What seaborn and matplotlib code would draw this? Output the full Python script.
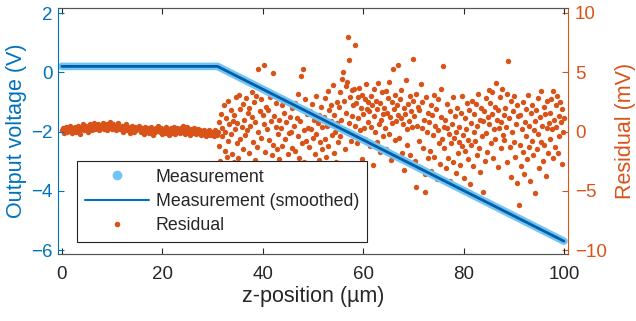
import numpy as np
import pandas as pd
import seaborn as sns
import matplotlib.pyplot as plt
from matplotlib.lines import Line2D

meas_z = [0, 31, 100]
meas_v = [0.2, 0.2, -5.7]

# residual before the ramp (mV), z = 0 .. 31
res_flat = [
    0.1, 0.3, -0.1, 0.2, 0.4, 0.0, 0.3, 0.1, 0.5, 0.2, -0.1, 0.3, 0.2, 0.4, 0.0, 0.2, 0.5, 0.1, 0.3, -0.2,
    0.4, 0.2, 0.6, 0.1, 0.3, 0.5, 0.2, 0.0, 0.4, 0.6, 0.3, 0.1, 0.5, 0.7, 0.2, 0.4, 0.3, 0.6, 0.1, 0.4,
    0.5, 0.3, 0.7, 0.2, 0.4, 0.6, 0.1, 0.5, 0.3, 0.8, 0.4, 0.2, 0.6, 0.3, 0.5, 0.1, 0.4, 0.7, 0.3, 0.2,
    0.3, 0.5, 0.0, 0.4, 0.2, 0.6, 0.3, 0.1, 0.4, 0.2, -0.1, 0.3, 0.5, 0.2, 0.0, 0.4, 0.1, 0.3, 0.2, 0.5,
    0.2, 0.0, 0.3, 0.1, -0.2, 0.4, 0.2, 0.0, 0.3, -0.1, 0.2, 0.4, 0.1, -0.3, 0.2, 0.0, 0.3, 0.1, 0.5, 0.2,
    0.0, 0.3, -0.2, 0.1, 0.2, -0.1, 0.4, 0.0, 0.2, -0.3, 0.1, 0.3, -0.1, 0.2, 0.0, 0.4, -0.2, 0.1, 0.3, 0.0,
    0.2, -0.1, 0.3, 0.0, 0.5, 0.1, -0.2, 0.2, 0.4, 0.0, 0.1, -0.3, 0.2, 0.0, -0.1, 0.3, 0.1, -0.2, 0.0, 0.2,
    -0.1, 0.1, -0.3, 0.0, -0.2, 0.1, -0.1, -0.4, 0.0, -0.2, 0.1, -0.3, -0.1, 0.0, -0.2, -0.4, 0.1, -0.1, -0.3, 0.0,
]

# residual on the ramp (mV), z = 31.2 .. 100
res_ramp = [
    -1.2, 0.8, -2.5, 1.5, -0.4, 0.3, -3.0, 2.2, -1.6, 0.0, 1.1, -2.1, 2.6, -0.8, 0.6, -3.3, 1.8, -0.2, -1.9, 0.9,
    1.4, -2.6, 0.2, 2.9, -1.0, 0.7, -2.2, 3.1, 1.9, -0.6, -3.4, 0.4, 2.3, -1.5, 1.0, -0.3, 2.8, -2.9, 0.1, 1.6,
    -1.8, 2.0, 0.5, -3.6, 3.3, 1.2, -0.9, 2.5, -2.4, 0.8, 3.0, -1.3, 5.3, 0.0, -4.1, 1.7, 2.7, -0.5, -2.8, 1.4,
    0.6, 5.6, -1.7, 2.1, -3.2, 0.2, 1.8, -0.7, -4.3, 2.9, 0.9, -2.0, 4.9, -1.1, 1.3, -3.0, 0.4, 2.4, -1.5, -0.2,
    -2.3, 1.0, -4.5, 0.3, 2.2, -1.2, -3.4, 1.6, -0.6, 0.8, -2.7, 2.6, -1.9, -0.1, -3.9, 1.2, 0.0, -1.4, 2.0, -2.9,
    0.5, -1.6, 2.4, -3.1, 1.1, -0.4, 3.2, -2.2, 0.9, 1.9, 4.7, -1.0, 5.3, -2.6, 0.1, 2.7, -0.8, -3.5, 1.5, 0.3,
    -1.3, 1.7, -2.8, 0.2, 2.3, -4.0, -0.5, 1.0, -1.9, 3.0, -0.2, -3.3, 0.7, 1.4, -2.4, -0.9, 2.1, -1.5, 0.4, -3.7,
    1.2, -0.6, 2.8, -2.1, 0.5, 3.4, -1.2, 1.8, -3.0, 0.9, 2.2, -0.3, 3.9, -1.8, 1.4, 0.0, -2.6, 2.5, 0.7, -0.9,
    2.1, -0.4, 3.3, 1.0, 4.4, 5.0, 0.2, 2.6, -1.5, 3.8, 1.6, 4.2, 8.0, 0.7, 6.0, 2.9, -0.8, 3.5, 1.3, 2.2,
    3.6, 0.5, 7.3, 2.4, -1.0, 2.9, 1.1, 3.7, 0.1, 2.0, -2.3, 3.1, 1.5, 0.3, 2.7, -0.6, 4.0, 1.9, 0.8, 2.5,
    1.7, -1.2, 3.0, 0.4, 2.2, -2.8, 1.3, 3.6, 0.0, 2.6, -0.9, 1.9, 4.1, 0.6, -1.7, 2.4, 1.0, 3.3, -0.4, 1.5,
    2.0, 0.3, 3.4, -1.5, 1.6, 2.8, -0.2, 4.2, 1.2, -2.4, 2.5, 0.7, 5.3, 1.9, -0.7, 3.1, 0.9, 2.2, 5.6, 1.4,
    -0.5, 2.7, 1.1, 3.5, -1.8, 0.6, 2.0, -3.2, 1.5, 4.3, 0.2, -1.1, 2.3, 0.9, 3.0, -2.0, 1.7, 0.4, 2.6, 6.1,
    1.3, -2.5, 3.2, -4.7, 0.5, 2.1, -0.8, 1.8, -3.0, 4.0, 0.3, 2.5, -1.4, 1.0, -3.6, -5.1, 2.9, 0.0, 1.6, -2.2,
    0.8, -1.6, 2.2, -3.3, 1.4, -0.3, 3.1, -2.1, 0.5, 1.9, -4.0, 0.1, 2.7, -1.0, -2.7, 1.2, 3.6, -0.6, 5.5, 0.4,
    -1.4, 1.0, -3.1, 0.3, 2.3, -2.2, -0.2, 1.7, -4.2, -1.0, 0.6, 2.9, -2.6, -0.5, 1.3, -3.5, 0.0, 2.0, -1.8, -0.9,
    0.4, -2.8, 1.6, -1.2, 3.0, -0.3, -3.9, 1.1, -1.6, 0.2, 2.4, -2.3, -0.7, 1.8, -4.4, 0.7, -1.1, 2.6, -2.9, 0.0,
    1.5, -0.8, 2.3, -2.0, 0.5, 3.2, -1.4, -3.4, 1.0, 2.0, -0.4, 0.9, -5.1, 1.7, -2.5, 2.8, -0.1, -1.7, 1.2, 3.5,
    0.6, 2.4, -1.0, 1.5, 3.3, -2.2, 0.2, 2.1, -0.6, 4.1, 1.0, -3.0, 1.8, 0.3, 2.9, -1.4, 0.8, 3.6, -0.3, 1.4,
    -0.7, 2.0, 0.4, -2.6, 3.2, 5.9, 1.1, -1.3, 2.6, -3.8, 0.0, 1.7, -0.9, 3.0, -2.1, 0.6, 2.2, -4.3, 1.3, -6.2,
    -1.1, 1.4, -2.9, 0.2, 2.5, -1.7, -3.6, 0.8, 1.9, -0.4, -2.3, 3.1, -1.3, 0.5, -4.2, 1.6, -0.8, 2.2, -2.0, 0.1,
    0.9, -5.2, 1.8, -1.5, 2.8, -0.2, -3.1, 1.2, 3.4, -0.9, 0.5, -2.5, 2.1, -1.1, 1.5, -3.7, 0.3, 2.6, -1.8, 0.7,
    1.6, -0.6, 2.7, 0.2, -2.2, 3.4, 1.0, -1.3, 2.2, 0.4, 3.0, -1.8, 1.3, -0.4, 2.5, 0.8, -2.7, 1.9, 0.0, 1.1,
]

blue = '#0072BD'
light_blue = '#73C4F2'
orange = '#D95319'
grey = '#262626'

sns.set_style("white")
plt.rcParams['font.family'] = ['Liberation Sans', 'DejaVu Sans']

# sample positions along z
res_df = pd.DataFrame({
    'z': np.concatenate([np.linspace(0, 31, len(res_flat)), np.linspace(31.2, 100, len(res_ramp))]),
    'res': res_flat + res_ramp,
})
meas_df = pd.DataFrame({'z': meas_z, 'v': meas_v})

fig = plt.figure(figsize=(6.36, 3.21), dpi=100)
ax = fig.add_axes([0.091, 0.209, 0.802, 0.766])
ax2 = ax.twinx()

sns.scatterplot(data=res_df, x='z', y='res', ax=ax2, color=orange, s=15, linewidth=0, legend=False)
sns.lineplot(data=meas_df, x='z', y='v', ax=ax, color=light_blue, linewidth=5.5,
             solid_capstyle='round', solid_joinstyle='round')
sns.lineplot(data=meas_df, x='z', y='v', ax=ax, color='#005EA8', linewidth=2,
             solid_joinstyle='round')

ax.set_zorder(ax2.get_zorder() + 1)
ax.patch.set_visible(False)

ax.set_xlim(-0.8, 100.8)
ax.set_ylim(-6.13, 2.17)
ax2.set_ylim(-10.3, 10.4)
ax.set_xticks([0, 20, 40, 60, 80, 100])
ax.set_yticks([-6, -4, -2, 0, 2])
ax2.set_yticks([-10, -5, 0, 5, 10])

ax.set_xlabel('z-position (µm)', fontsize=15.5, color=grey, labelpad=2)
ax.set_ylabel('Output voltage (V)', fontsize=15.5, color=blue, labelpad=3)
ax2.set_ylabel('Residual (mV)', fontsize=15.5, color=orange, labelpad=6)

ax.tick_params(axis='x', direction='in', top=True, bottom=True, length=4, pad=9,
               labelsize=13.5, colors=grey, width=0.8)
ax.tick_params(axis='y', direction='in', left=True, right=False, length=4, pad=4,
               labelsize=13.5, colors=blue, width=0.8)
ax2.tick_params(axis='y', direction='in', right=True, left=False, length=4, pad=5,
                labelsize=13.5, colors=orange, width=0.8)

for a in (ax, ax2):
    a.spines['top'].set_color('#555555')
    a.spines['bottom'].set_color('#555555')
ax.spines['left'].set_color(blue)
ax.spines['right'].set_visible(False)
ax2.spines['left'].set_visible(False)
ax2.spines['right'].set_color(orange)

handles = [
    Line2D([], [], linestyle='none', marker='o', markersize=6, color=light_blue),
    Line2D([], [], color=blue, linewidth=1.5),
    Line2D([], [], linestyle='none', marker='o', markersize=3, color=orange),
]
labels = ['Measurement', 'Measurement (smoothed)', 'Residual']
leg = ax.legend(handles, labels, loc='lower left', bbox_to_anchor=(0.037, 0.049),
                fontsize=12.8, handlelength=3.6, handletextpad=0.4, labelspacing=0.4,
                borderpad=0.45, borderaxespad=0, fancybox=False, framealpha=1,
                edgecolor='#222222')
leg.get_frame().set_linewidth(0.8)

fig.savefig('out.png', dpi=100)
